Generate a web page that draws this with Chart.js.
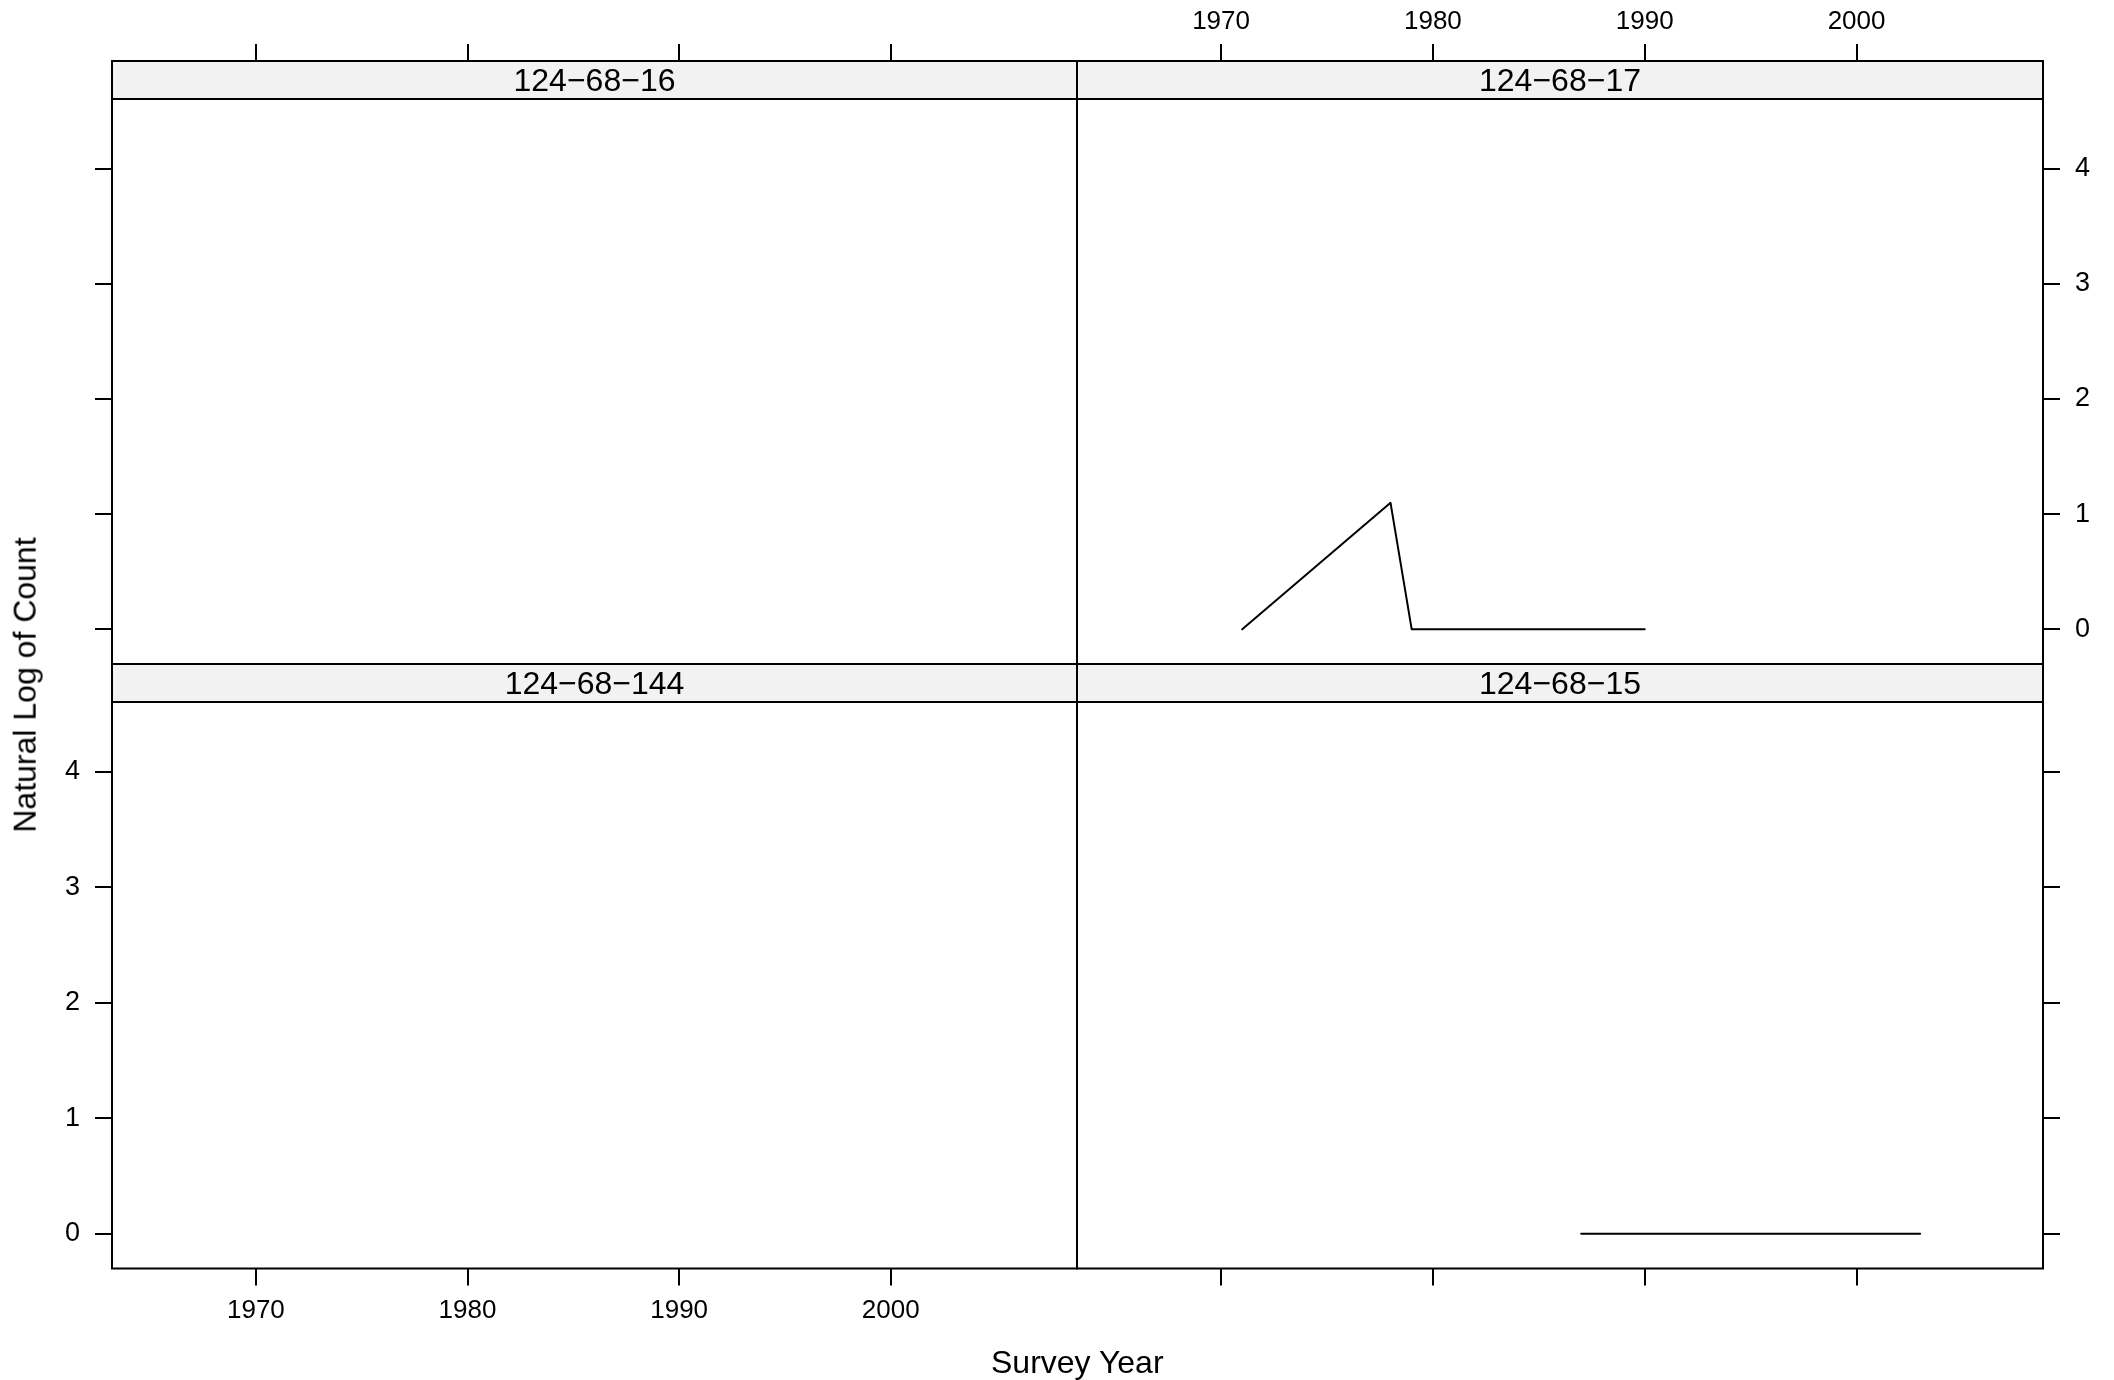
<!DOCTYPE html>
<html><head><meta charset="utf-8">
<script src="https://cdn.jsdelivr.net/npm/chart.js@4"></script>
<style>
html,body{margin:0;padding:0;background:#fff;}
#wrap{position:relative;width:2114px;height:1380px;overflow:hidden;background:#fff;}
canvas{position:absolute;left:0;top:0;}
.lab{position:absolute;font-family:"Liberation Sans",Arial,sans-serif;font-size:32px;color:#000;white-space:nowrap;line-height:1;}
</style></head><body>
<div id="wrap">
<canvas id="p0" width="2114" height="1380"></canvas>
<canvas id="p1" width="2114" height="1380"></canvas>
<canvas id="p2" width="2114" height="1380"></canvas>
<canvas id="p3" width="2114" height="1380"></canvas>
<div class="lab" id="xt">Survey Year</div>
<div class="lab" id="yt">Natural Log of Count</div>
</div>
<script>
// ---- data ----
const panelNames = ['124\u221268\u221216', '124\u221268\u221217', '124\u221268\u2212144', '124\u221268\u221215'];
const years_16 = [];
const logCount_16 = [];
const years_17 = [1971, 1978, 1979, 1990];
const logCount_17 = [0, 1.0986, 0, 0];
const years_144 = [];
const logCount_144 = [];
const years_15 = [1987, 2003];
const logCount_15 = [0, 0];
const xTickValues = [1970, 1980, 1990, 2000];
const yTickValues = [0, 1, 2, 3, 4];
const xAxisLabel = 'Survey Year';
const yAxisLabel = 'Natural Log of Count';

// ---- layout ----
const FONT = '"Liberation Sans", Arial, sans-serif';
Chart.defaults.font.family = FONT;
const X_MIN = 1963.2, X_MAX = 2008.8;
const Y_MIN = -0.301, Y_PLOT_TOP = 4.605;
const STRIP_H = 38;
const colX = [[112, 1077], [1077, 2043]];
const rowY = [[61, 664], [664, 1268.5]];
const TL = 17;
const W = 2114, H = 1380;

const panels = [
  {name: panelNames[0], xs: years_16, ys: logCount_16, row: 0, col: 0},
  {name: panelNames[1], xs: years_17, ys: logCount_17, row: 0, col: 1},
  {name: panelNames[2], xs: years_144, ys: logCount_144, row: 1, col: 0},
  {name: panelNames[3], xs: years_15, ys: logCount_15, row: 1, col: 1}
];

const panelDeco = {
  id: 'panelDeco',
  afterDraw(chart, args, opts) {
    const ctx = chart.ctx, a = chart.chartArea, y = chart.scales.y;
    const sb = y.getPixelForValue(Y_PLOT_TOP);
    ctx.save();
    ctx.fillStyle = '#f2f2f2';
    ctx.fillRect(a.left, a.top, a.right - a.left, sb - a.top);
    ctx.strokeStyle = '#000';
    ctx.lineWidth = 2;
    ctx.strokeRect(a.left, a.top, a.right - a.left, sb - a.top);
    ctx.strokeRect(a.left, a.top, a.right - a.left, a.bottom - a.top);
    ctx.fillStyle = '#000';
    ctx.font = '32px ' + FONT;
    ctx.textAlign = 'center';
    ctx.textBaseline = 'middle';
    ctx.fillText(opts.title, (a.left + a.right) / 2, (a.top + sb) / 2 + 2);
    ctx.restore();
  }
};

panels.forEach((p, i) => {
  const xPos = p.row === 0 ? 'top' : 'bottom';
  const yPos = p.col === 0 ? 'left' : 'right';
  const xLab = (p.row === 0 && p.col === 1) || (p.row === 1 && p.col === 0);
  const yLab = (p.col === 0 && p.row === 1) || (p.col === 1 && p.row === 0);
  const xSize = xLab ? (xPos === 'top' ? 50 : 70) : TL;
  const ySize = yLab ? 60 : TL;
  const [L, R] = colX[p.col];
  const [T, B] = rowY[p.row];
  const yMax = Y_PLOT_TOP + STRIP_H * (Y_PLOT_TOP - Y_MIN) / ((B - T) - STRIP_H);
  const padding = {
    left: yPos === 'left' ? L - ySize : L,
    right: yPos === 'right' ? W - R - ySize : W - R,
    top: xPos === 'top' ? T - xSize : T,
    bottom: xPos === 'bottom' ? H - B - xSize : H - B
  };
  new Chart(document.getElementById('p' + i), {
    type: 'line',
    data: {
      datasets: [{
        data: p.xs.map((x, k) => ({x: x, y: p.ys[k]})),
        borderColor: '#000',
        borderWidth: 2,
        borderCapStyle: 'round',
        borderJoinStyle: 'round',
        pointRadius: 0,
        fill: false,
        tension: 0
      }]
    },
    options: {
      responsive: false,
      animation: false,
      devicePixelRatio: 1,
      events: [],
      layout: {padding: padding},
      plugins: {legend: {display: false}, tooltip: {enabled: false}, panelDeco: {title: p.name}},
      scales: {
        x: {
          type: 'linear', position: xPos, min: X_MIN, max: X_MAX,
          afterBuildTicks: s => { s.ticks = xTickValues.map(v => ({value: v})); },
          afterFit: s => { s.height = xSize; },
          border: {display: false},
          grid: {drawOnChartArea: false, drawTicks: true, tickLength: TL, color: '#000', lineWidth: 2, tickWidth: 2},
          ticks: {display: xLab, color: '#000', font: {size: 26}, padding: xPos === 'top' ? 7 : 10, maxRotation: 0, autoSkip: false,
                  callback: v => String(v)}
        },
        y: {
          type: 'linear', position: yPos, min: Y_MIN, max: yMax,
          afterBuildTicks: s => { s.ticks = yTickValues.map(v => ({value: v})); },
          afterFit: s => { s.width = ySize; },
          border: {display: false},
          grid: {drawOnChartArea: false, drawTicks: true, tickLength: TL, color: '#000', lineWidth: 2, tickWidth: 2},
          ticks: {display: yLab, color: '#000', font: {size: 27}, padding: 15, autoSkip: false,
                  callback: v => String(v)}
        }
      }
    },
    plugins: [panelDeco]
  });
});

const xt = document.getElementById('xt');
xt.textContent = xAxisLabel;
xt.style.left = (1077.5 - xt.offsetWidth / 2) + 'px';
xt.style.top = (1362 - xt.offsetHeight / 2) + 'px';
const yt = document.getElementById('yt');
yt.textContent = yAxisLabel;
yt.style.left = (24 - yt.offsetWidth / 2) + 'px';
yt.style.top = (685 - yt.offsetHeight / 2) + 'px';
yt.style.transform = 'rotate(-90deg)';
</script>
</body></html>
